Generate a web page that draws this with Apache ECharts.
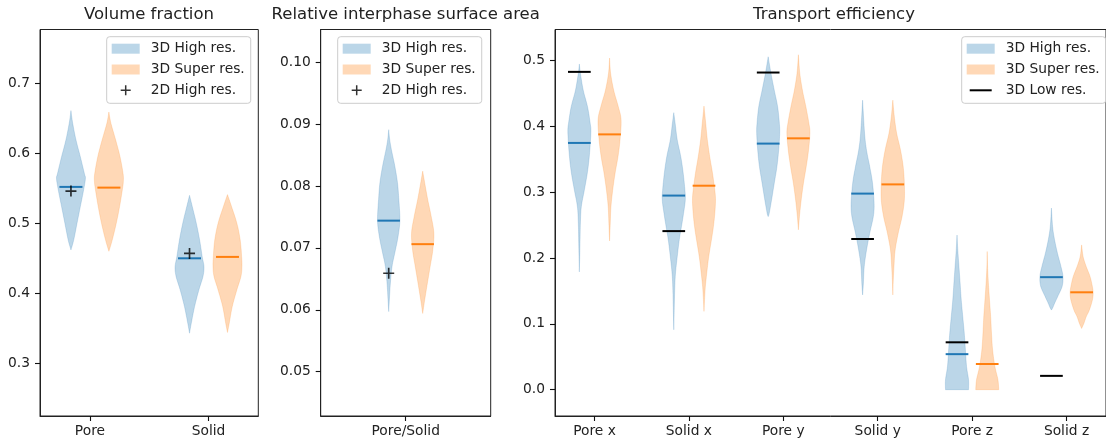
<!DOCTYPE html>
<html><head><meta charset="utf-8">
<script src="https://cdn.jsdelivr.net/npm/echarts@6/dist/echarts.min.js"></script>
<style>html,body{margin:0;padding:0;background:#fff}#c{width:1106px;height:443px}</style>
</head><body><div id="c"></div>
<script>
// ---------------- DATA ----------------
// Volume fraction panel
const volCats = ['Pore', 'Solid'];
const volTicks = [0.3, 0.4, 0.5, 0.6, 0.7];
// violin profiles: [value, relative half-width]
const volHighProfiles = [
  [[0.661,0],[0.643,0.12],[0.619,0.35],[0.595,0.65],[0.571,0.93],[0.564,1.0],[0.548,0.88],[0.524,0.65],[0.500,0.42],[0.476,0.19],[0.462,0]],
  [[0.540,0],[0.524,0.19],[0.500,0.47],[0.476,0.70],[0.452,0.88],[0.438,1.0],[0.424,0.93],[0.405,0.65],[0.381,0.35],[0.357,0.12],[0.343,0]]
];
const volSuperProfiles = [
  [[0.659,0],[0.643,0.14],[0.619,0.47],[0.595,0.77],[0.571,0.98],[0.560,1.0],[0.548,0.93],[0.524,0.74],[0.500,0.51],[0.476,0.23],[0.460,0]],
  [[0.541,0],[0.524,0.28],[0.500,0.65],[0.476,0.88],[0.452,0.98],[0.438,1.0],[0.424,0.93],[0.405,0.65],[0.381,0.33],[0.357,0.12],[0.344,0]]
];
const volHighMeans = [0.552, 0.450];
const volSuperMeans = [0.551, 0.452];
const vol2DHigh = [0.546, 0.457];

// Relative interphase surface area panel
const areaCats = ['Pore/Solid'];
const areaTicks = [0.05, 0.06, 0.07, 0.08, 0.09, 0.10];
const areaHighProfiles = [
  [[0.0891,0],[0.0875,0.09],[0.0859,0.24],[0.0832,0.55],[0.0805,0.79],[0.0778,0.91],[0.0751,1.0],[0.0735,0.97],[0.0713,0.79],[0.0692,0.55],[0.0670,0.30],[0.0643,0.15],[0.0616,0.06],[0.0597,0]]
];
const areaSuperProfiles = [
  [[0.0824,0],[0.0805,0.18],[0.0778,0.45],[0.0751,0.76],[0.0724,1.0],[0.0697,0.91],[0.0670,0.67],[0.0643,0.42],[0.0616,0.18],[0.0594,0]]
];
const areaHighMeans = [0.0744];
const areaSuperMeans = [0.0706];
const area2DHigh = [0.0659];

// Transport efficiency panel
const transCats = ['Pore x', 'Solid x', 'Pore y', 'Solid y', 'Pore z', 'Solid z'];
const transTicks = [0.0, 0.1, 0.2, 0.3, 0.4, 0.5];
const transHighProfiles = [
  [[0.495,0],[0.481,0.09],[0.455,0.34],[0.430,0.71],[0.405,0.94],[0.395,1.0],[0.380,0.97],[0.354,0.86],[0.329,0.69],[0.303,0.43],[0.278,0.17],[0.253,0.09],[0.228,0.06],[0.202,0.03],[0.179,0]],
  [[0.421,0],[0.405,0.12],[0.380,0.30],[0.354,0.61],[0.329,0.82],[0.303,0.97],[0.288,1.0],[0.268,0.85],[0.248,0.67],[0.228,0.48],[0.202,0.30],[0.177,0.15],[0.157,0.09],[0.130,0.05],[0.091,0]],
  [[0.506,0],[0.481,0.24],[0.455,0.53],[0.430,0.82],[0.405,0.97],[0.390,1.0],[0.364,0.91],[0.339,0.76],[0.314,0.53],[0.288,0.29],[0.268,0.09],[0.263,0]],
  [[0.440,0],[0.390,0.17],[0.364,0.34],[0.339,0.62],[0.314,0.86],[0.283,1.0],[0.263,0.93],[0.238,0.62],[0.212,0.34],[0.187,0.14],[0.162,0.07],[0.144,0]],
  [[0.235,0],[0.212,0.07],[0.187,0.17],[0.162,0.27],[0.136,0.37],[0.111,0.50],[0.086,0.63],[0.060,0.73],[0.035,0.83],[0.015,1.0],[0.0,1.0]],
  [[0.276,0],[0.248,0.10],[0.228,0.27],[0.207,0.53],[0.187,0.83],[0.172,1.0],[0.157,0.93],[0.141,0.53],[0.131,0.27],[0.124,0.10],[0.121,0]]
];
const transSuperProfiles = [
  [[0.504,0],[0.481,0.09],[0.455,0.36],[0.430,0.76],[0.410,1.0],[0.380,0.91],[0.354,0.73],[0.329,0.48],[0.303,0.27],[0.278,0.12],[0.253,0.06],[0.226,0]],
  [[0.431,0],[0.405,0.15],[0.380,0.29],[0.354,0.50],[0.329,0.74],[0.303,0.94],[0.288,1.0],[0.268,0.94],[0.248,0.82],[0.228,0.65],[0.202,0.41],[0.177,0.24],[0.157,0.12],[0.140,0.06],[0.119,0]],
  [[0.509,0],[0.481,0.12],[0.455,0.35],[0.430,0.65],[0.405,0.91],[0.390,1.0],[0.364,0.88],[0.339,0.68],[0.314,0.44],[0.288,0.24],[0.263,0.09],[0.243,0]],
  [[0.440,0],[0.415,0.13],[0.390,0.33],[0.364,0.67],[0.339,0.90],[0.314,1.0],[0.288,1.0],[0.263,0.80],[0.238,0.47],[0.212,0.20],[0.187,0.10],[0.162,0.03],[0.144,0]],
  [[0.210,0],[0.187,0.03],[0.162,0.10],[0.136,0.20],[0.111,0.30],[0.086,0.37],[0.060,0.47],[0.035,0.67],[0.015,0.93],[0.0,1.0]],
  [[0.220,0],[0.202,0.13],[0.187,0.40],[0.172,0.73],[0.157,0.93],[0.147,1.0],[0.136,0.93],[0.121,0.67],[0.111,0.40],[0.101,0.20],[0.093,0]]
];
const transHighMeans = [0.375, 0.295, 0.374, 0.298, 0.054, 0.171];
const transSuperMeans = [0.388, 0.310, 0.382, 0.312, 0.039, 0.148];
const trans3DLow = [0.483, 0.241, 0.482, 0.229, 0.072, 0.021];

// ---------------- STYLE ----------------
const FONT = 'DejaVu Sans';
const TXT = '#222';
const C0 = '#1f77b4', C1 = '#ff7f0e';
const FILL0 = 'rgba(31,119,180,0.3)', FILL1 = 'rgba(255,127,14,0.3)';
const OFF = 0.16;          // violin offset from tick (x units)
const NAME_H = '3D High res.', NAME_S = '3D Super res.', NAME_2D = '2D High res.', NAME_L = '3D Low res.';
const PLUS = 'path://M0,4.25h10v1.5h-10zM4.25,0h1.5v10h-1.5z';

function cr(a, b, c, d, t) {
  return 0.5 * (2*b + (-a + c)*t + (2*a - 5*b + 4*c - d)*t*t + (-a + 3*b - 3*c + d)*t*t*t);
}
function densify(prof) {
  const out = [], n = prof.length;
  for (let i = 0; i < n - 1; i++) {
    const p0 = prof[Math.max(i-1,0)], p1 = prof[i], p2 = prof[i+1], p3 = prof[Math.min(i+2,n-1)];
    for (let s = 0; s < 8; s++) {
      const t = s / 8;
      out.push([cr(p0[0],p1[0],p2[0],p3[0],t), Math.max(0, cr(p0[1],p1[1],p2[1],p3[1],t))]);
    }
  }
  out.push(prof[n-1]);
  return out;
}
function violin(name, g, profiles, side, halfW, fill) {
  return {
    type: 'custom', name, xAxisIndex: g, yAxisIndex: g, z: 2, silent: true,
    data: profiles.map((p, i) => [i + 1 + side * OFF, p[0][0]]),
    renderItem(params, api) {
      const prof = densify(profiles[params.dataIndex]);
      const pos = api.value(0);
      const left = prof.map(([v, w]) => api.coord([pos - w * halfW, v]));
      const right = prof.map(([v, w]) => api.coord([pos + w * halfW, v])).reverse();
      return { type: 'polygon', shape: { points: left.concat(right) }, style: { fill: fill, stroke: fill, lineWidth: 0.6 } };
    }
  };
}
function hline(name, g, values, side, color, lenPx, lw) {
  return {
    type: 'custom', name, xAxisIndex: g, yAxisIndex: g, z: 4, silent: true,
    data: values.map((v, i) => [i + 1 + side * OFF, v]),
    renderItem(params, api) {
      const c = api.coord([api.value(0), api.value(1)]);
      return { type: 'line', shape: { x1: c[0] - lenPx/2, y1: c[1], x2: c[0] + lenPx/2, y2: c[1] }, style: { stroke: color, lineWidth: lw } };
    }
  };
}
function plus(g, values) {
  return {
    type: 'scatter', name: NAME_2D, xAxisIndex: g, yAxisIndex: g, z: 5, silent: true,
    symbol: PLUS, symbolSize: 11, itemStyle: { color: '#000' },
    data: values.map((v, i) => [i + 1 - OFF, v])
  };
}

const grids = [
  { left: 40, top: 29.5, width: 218.3, height: 386.5 },
  { left: 320.7, top: 29.5, width: 170, height: 386.5 },
  { left: 555, top: 29.5, width: 558, height: 386.5 }
].map(g => Object.assign({ show: true, borderColor: '#222', borderWidth: 1, backgroundColor: 'transparent' }, g));

function xAxis(g, cats, min, max) {
  const vals = cats.map((c, i) => i + 1);
  return {
    type: 'value', gridIndex: g, min, max, position: 'bottom', splitLine: { show: false },
    axisLine: { show: true, onZero: false, lineStyle: { color: '#222', width: 1 } },
    axisTick: { show: true, length: 5, inside: false, customValues: vals, lineStyle: { color: '#111', width: 1.1 } },
    axisLabel: { show: true, customValues: vals, margin: 8, color: TXT, fontSize: 13.8, fontFamily: FONT,
      formatter: v => cats[Math.round(v) - 1] }
  };
}
function yAxis(g, ticks, min, max, dec, margin) {
  return {
    type: 'value', gridIndex: g, min, max, position: 'left', splitLine: { show: false },
    axisLine: { show: true, onZero: false, lineStyle: { color: '#222', width: 1 } },
    axisTick: { show: true, length: 5, inside: false, customValues: ticks, lineStyle: { color: '#111', width: 1.1 } },
    axisLabel: { show: true, customValues: ticks, margin: margin, color: TXT, fontSize: 13.8, fontFamily: FONT,
      formatter: v => Number(v).toFixed(dec) }
  };
}
function legend(left, third) {
  return {
    left, top: 36.7, orient: 'vertical', selectedMode: false,
    itemWidth: 28, itemHeight: 10, itemGap: 4.8,
    padding: [4, 6, 5, 5],
    backgroundColor: 'rgba(255,255,255,0.8)', borderColor: '#cccccc', borderWidth: 1, borderRadius: 3,
    textStyle: { fontSize: 13.8, fontFamily: FONT, color: TXT, lineHeight: 16, padding: [0, 0, 0, 6] },
    data: [
      { name: NAME_H, icon: 'rect', itemStyle: { color: FILL0 } },
      { name: NAME_S, icon: 'rect', itemStyle: { color: FILL1 } },
      third
    ]
  };
}
const legendPlus = { name: NAME_2D, icon: 'path://M0,0M28,10M9,4.25h10v1.5h-10zM13.25,0h1.5v10h-1.5z', itemStyle: { color: '#000' } };
const legendLine = { name: NAME_L, icon: 'path://M0,0M28,10M3,4h22v2h-22z', itemStyle: { color: '#000' } };

const titleStyle = { fontSize: 16.5, fontWeight: 'normal', fontFamily: FONT, color: TXT };
const option = {
  animation: false,
  backgroundColor: '#fff',
  title: [
    { text: 'Volume fraction', left: 149, top: 6, padding: 0, textAlign: 'center', textStyle: titleStyle },
    { text: 'Relative interphase surface area', left: 405.7, top: 6, padding: 0, textAlign: 'center', textStyle: titleStyle },
    { text: 'Transport efficiency', left: 834, top: 6, padding: 0, textAlign: 'center', textStyle: titleStyle }
  ],
  grid: grids,
  xAxis: [
    xAxis(0, volCats, 0.579, 2.42),
    xAxis(1, areaCats, 0.2, 1.8),
    xAxis(2, transCats, 0.582, 6.418)
  ],
  yAxis: [
    yAxis(0, volTicks, 0.2247, 0.7769, 1, 10),
    yAxis(1, areaTicks, 0.04283, 0.10529, 2, 10),
    yAxis(2, transTicks, -0.040, 0.5474, 1, 10)
  ],
  legend: [legend(106.7, legendPlus), legend(337.7, legendPlus), legend(961.7, legendLine)],
  series: [
    violin(NAME_H, 0, volHighProfiles, -1, 0.122, FILL0),
    violin(NAME_S, 0, volSuperProfiles, 1, 0.122, FILL1),
    hline(NAME_H, 0, volHighMeans, -1, C0, 23, 2),
    hline(NAME_S, 0, volSuperMeans, 1, C1, 23, 2),
    plus(0, vol2DHigh),

    violin(NAME_H, 1, areaHighProfiles, -1, 0.105, FILL0),
    violin(NAME_S, 1, areaSuperProfiles, 1, 0.105, FILL1),
    hline(NAME_H, 1, areaHighMeans, -1, C0, 22.5, 2),
    hline(NAME_S, 1, areaSuperMeans, 1, C1, 22.5, 2),
    plus(1, area2DHigh),

    violin(NAME_H, 2, transHighProfiles, -1, 0.122, FILL0),
    violin(NAME_S, 2, transSuperProfiles, 1, 0.122, FILL1),
    hline(NAME_H, 2, transHighMeans, -1, C0, 22.7, 2),
    hline(NAME_S, 2, transSuperMeans, 1, C1, 22.7, 2),
    hline(NAME_L, 2, trans3DLow, -1, '#000', 22.7, 2)
  ]
};
const chart = echarts.init(document.getElementById('c'), null, { renderer: 'canvas' });
chart.setOption(option);
</script></body></html>
